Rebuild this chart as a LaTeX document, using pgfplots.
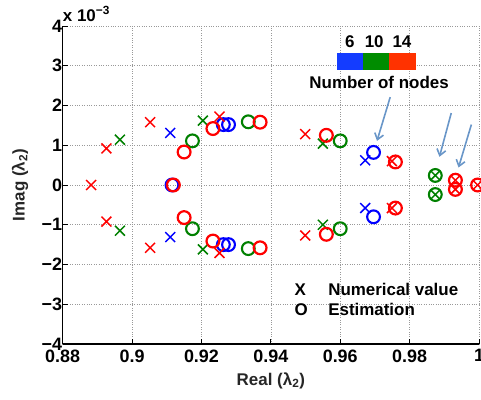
\documentclass[border=0pt]{standalone}
\usepackage{fontspec}
\setmainfont{Liberation Sans}
\usepackage{pgfplots}
\pgfplotsset{compat=1.18}
\usetikzlibrary{arrows.meta}
\definecolor{mblue}{RGB}{0,0,255}
\definecolor{mgreen}{RGB}{0,128,0}
\definecolor{mred}{RGB}{255,0,0}
\definecolor{cbblue}{RGB}{20,60,255}
\definecolor{cbgreen}{RGB}{0,140,0}
\definecolor{cbred}{RGB}{255,50,0}
\definecolor{arrowc}{RGB}{105,150,200}
\begin{document}
\begin{tikzpicture}[font=\fontsize{17}{20}\selectfont\bfseries]
\begin{axis}[
  scale only axis, width=416.3bp, height=318bp,
  xmin=0.88, xmax=1, ymin=-4, ymax=4,
  axis x line*=bottom, axis y line*=left,
  axis line style={line width=1.2bp, -},
  xtick={0.88,0.9,0.92,0.94,0.96,0.98,1},
  xticklabels={0.88,0.9,0.92,0.94,0.96,0.98,1},
  ytick={-4,-3,-2,-1,0,1,2,3,4},
  yticklabels={−4,−3,−2,−1,0,1,2,3,4},
  ticklabel style={font=\fontsize{18}{20}\selectfont\bfseries},
  xticklabel style={yshift=-2bp},
  yticklabel style={xshift=3bp},
  grid=major, grid style={dotted, gray!80, line width=0.7bp},
  tick align=inside, major tick length=5bp,
  tick style={black, line width=0.8bp},
  clip=false,
]
% 6 nodes
\addplot[only marks, mark=x, mblue, mark size=7bp, line width=1.5bp] coordinates {
 (0.9110,1.31) (0.9110,-1.31) (0.9672,0.62) (0.9672,-0.58)};
\addplot[only marks, mark=o, mblue, mark size=6.4bp, line width=2.1bp] coordinates {
 (0.9115,0) (0.9263,1.52) (0.9278,1.52) (0.9263,-1.50) (0.9278,-1.50) (0.9696,0.82) (0.9696,-0.80)};
% 10 nodes
\addplot[only marks, mark=x, mgreen, mark size=7bp, line width=1.5bp] coordinates {
 (0.8965,1.14) (0.8965,-1.15) (0.9204,1.62) (0.9204,-1.62) (0.9550,1.04) (0.9550,-1.00) (0.9874,0.24) (0.9874,-0.24)};
\addplot[only marks, mark=o, mgreen, mark size=6.4bp, line width=2.1bp] coordinates {
 (0.9174,1.11) (0.9174,-1.10) (0.9335,1.59) (0.9335,-1.60) (0.9600,1.11) (0.9600,-1.10) (0.9874,0.24) (0.9874,-0.24)};
% 14 nodes
\addplot[only marks, mark=x, mred, mark size=7bp, line width=1.5bp] coordinates {
 (0.8882,0) (0.8926,0.92) (0.8926,-0.92) (0.9052,1.58) (0.9052,-1.58) (0.9252,1.72) (0.9252,-1.71)
 (0.9499,1.28) (0.9499,-1.27) (0.9749,0.60) (0.9749,-0.58) (0.9932,0.12) (0.9932,-0.11) (0.9996,0)};
\addplot[only marks, mark=o, mred, mark size=6.4bp, line width=2.2bp] coordinates {
 (0.9119,0) (0.9150,0.83) (0.9150,-0.82) (0.9233,1.42) (0.9233,-1.41) (0.9369,1.58) (0.9369,-1.58)
 (0.9560,1.25) (0.9560,-1.24) (0.9759,0.58) (0.9759,-0.58) (0.9932,0.12) (0.9932,-0.11) (0.9996,0)};
% colour bar legend
\fill[cbblue] (axis cs:0.9591,2.896) rectangle (axis cs:0.9666,3.326);
\fill[cbgreen] (axis cs:0.9666,2.896) rectangle (axis cs:0.9741,3.326);
\fill[cbred] (axis cs:0.9741,2.896) rectangle (axis cs:0.9818,3.326);
\node[anchor=base] at (axis cs:0.9628,3.47) {6};
\node[anchor=base] at (axis cs:0.9698,3.47) {10};
\node[anchor=base] at (axis cs:0.9778,3.47) {14};
\node[anchor=base] at (axis cs:0.9712,2.43) {Number of nodes};
% arrows
\draw[arrowc, line width=1.6bp, -{Straight Barb[length=6bp,width=9bp]}] (axis cs:0.9744,2.21) -- (axis cs:0.9706,1.11);
\draw[arrowc, line width=1.6bp, -{Straight Barb[length=6bp,width=9bp]}] (axis cs:0.9920,1.81) -- (axis cs:0.9886,0.71);
\draw[arrowc, line width=1.6bp, -{Straight Barb[length=6bp,width=9bp]}] (axis cs:0.9978,1.52) -- (axis cs:0.9941,0.44);
% marker legend
\node[anchor=base west, inner sep=0pt] at (axis cs:0.9468,-2.77) {X};
\node[anchor=base west, inner sep=0pt] at (axis cs:0.9468,-3.28) {O};
\node[anchor=base west, inner sep=0pt] at (axis cs:0.9565,-2.77) {Numerical value};
\node[anchor=base west, inner sep=0pt] at (axis cs:0.9565,-3.28) {Estimation};
% labels
\node[anchor=base, black!85] at ([yshift=-41bp]rel axis cs:0.5,0) {Real (λ\textsubscript{2})};
\node[anchor=base, rotate=90, black!85] at ([xshift=-38bp]rel axis cs:0,0.5) {Imag (λ\textsubscript{2})};
\node[anchor=base west, inner sep=0pt] at ([yshift=5bp]rel axis cs:0,1) {x 10\textsuperscript{−3}};
\end{axis}
\pgfresetboundingbox
\path[use as bounding box] (-62.7bp,-56bp) rectangle (418.3bp,344bp);
\end{tikzpicture}
\end{document}
